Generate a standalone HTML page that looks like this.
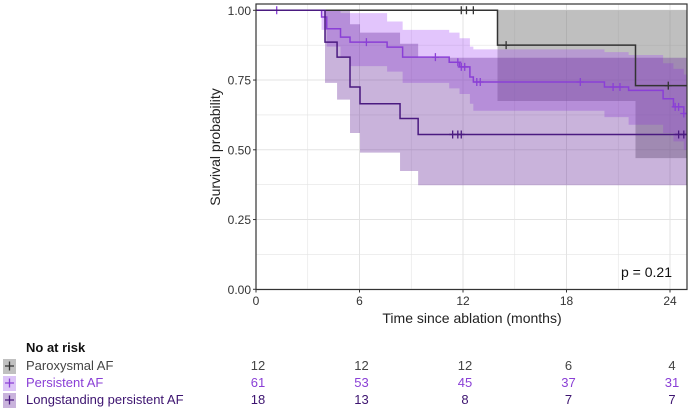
<!DOCTYPE html>
<html><head><meta charset="utf-8"><style>
body{margin:0;background:#fff;}
svg{display:block;font-family:"Liberation Sans",Arial,sans-serif;}
</style></head><body>
<svg id="chart" width="691" height="412" viewBox="0 0 691 412">
<g id="grid"></g>
<g id="bands"></g>
<g id="lines"></g>
<g id="axes"></g>
<text x="621" y="277" font-size="14" fill="#111">p = 0.21</text>
<text x="220" y="147" font-size="14" fill="#222" text-anchor="middle" transform="rotate(-90 220 147)">Survival probability</text>
<text x="472" y="323" font-size="14" fill="#222" text-anchor="middle">Time since ablation (months)</text>
<g id="risk">
<text x="26" y="352" font-size="13" font-weight="bold" fill="#111">No at risk</text>
</g>
</svg>
<script>
const ticksX=[0,6,12,18,24];
const ticksY=[0,0.25,0.5,0.75,1];
const tickLabelsY=["0.00","0.25","0.50","0.75","1.00"];
const groupNames=["Paroxysmal AF","Persistent AF","Longstanding persistent AF"];
const parTimes=[0,14.0,22.0];
const parSurv=[1,0.875,0.73];
const parLower=[1,0.675,0.47];
const parUpper=[1,1,1];
const parCensor=[11.9,12.2,12.6,14.5,23.9];
const perTimes=[0,3.8,4.1,4.9,5.45,7.6,8.5,11.2,11.8,12.4,12.6,20.2,21.6,23.6,24.2,24.8];
const perSurv=[1,0.976,0.934,0.904,0.886,0.868,0.832,0.814,0.797,0.761,0.743,0.725,0.713,0.683,0.654,0.63];
const perLower=[1,0.93,0.87,0.83,0.8,0.78,0.74,0.72,0.7,0.665,0.64,0.617,0.59,0.56,0.53,0.5];
const perUpper=[1,1,1,0.99,0.99,0.96,0.93,0.92,0.9,0.87,0.86,0.85,0.84,0.81,0.79,0.77];
const perCensor=[1.2,6.4,10.4,11.7,11.9,12.1,12.8,13.0,18.8,20.7,21.1,24.3,24.5,24.8];
const lonTimes=[0,4.0,4.7,5.45,6.03,8.35,9.4];
const lonSurv=[1,0.886,0.832,0.725,0.665,0.612,0.555];
const lonLower=[1,0.74,0.68,0.56,0.49,0.424,0.373];
const lonUpper=[1,1,1,0.95,0.92,0.88,0.83];
const lonCensor=[11.4,11.7,11.9,24.5,24.8];
const riskPar=[12,12,12,6,4];
const riskPer=[61,53,45,37,31];
const riskLon=[18,13,8,7,7];

const X0=256,X1=687,Y0=4,Y1=289.5;
const xs=t=>256+t*17.25;
const ys=s=>289.3-s*279;
const NS="http://www.w3.org/2000/svg";
function mk(tag,attrs,parent){const e=document.createElementNS(NS,tag);for(const k in attrs)e.setAttribute(k,attrs[k]);parent.appendChild(e);return e;}
const grid=document.getElementById('grid'),axes=document.getElementById('axes'),bands=document.getElementById('bands'),lines=document.getElementById('lines'),risk=document.getElementById('risk');
mk('rect',{x:X0,y:Y0,width:X1-X0,height:Y1-Y0,fill:'#fff'},grid);
for(let t=0;t<=25;t+=3){const g=mk('line',{x1:xs(t),x2:xs(t),y1:Y0,y2:Y1,stroke:'#e3e3e3','stroke-width':t%6?0.6:1},grid);

}
for(let s=0;s<=1.001;s+=0.125){const g=mk('line',{x1:X0,x2:X1,y1:ys(s),y2:ys(s),stroke:'#e3e3e3','stroke-width':(Math.round(s*8)%2)?0.6:1},grid);

}
const END=25;
function stepPath(T,S){let d=`M${xs(T[0])},${ys(S[0])}`;for(let i=1;i<T.length;i++){d+=`H${xs(T[i])}V${ys(S[i])}`;}d+=`H${xs(END)}`;return d;}
function bandPath(T,L,U){let top=`M${xs(T[0])},${ys(U[0])}`;for(let i=1;i<T.length;i++)top+=`H${xs(T[i])}V${ys(U[i])}`;top+=`H${xs(END)}`;
let n=T.length-1;let bot=`V${ys(L[n])}`;for(let i=n;i>=1;i--){bot+=`H${xs(T[i])}V${ys(L[i-1])}`;}bot+=`H${xs(T[0])}Z`;return top+bot;}
const groups=[
 {n:'paroxysmal',T:parTimes,S:parSurv,L:parLower,U:parUpper,C:parCensor,line:'#333',fill:'#808080',op:0.5},
 {n:'persistent',T:perTimes,S:perSurv,L:perLower,U:perUpper,C:perCensor,line:'#8a3fd6',fill:'#a64ff5',op:0.33},
 {n:'longstanding',T:lonTimes,S:lonSurv,L:lonLower,U:lonUpper,C:lonCensor,line:'#4a1a80',fill:'#6a2c9a',op:0.36}];
function survAt(T,S,t){let v=S[0];for(let i=0;i<T.length;i++)if(T[i]<=t)v=S[i];return v;}
groups.forEach(g=>{
 const b=mk('path',{d:bandPath(g.T,g.L,g.U),fill:g.fill,'fill-opacity':g.op},bands);
 
 
});
groups.forEach(g=>{
 const l=mk('path',{d:stepPath(g.T,g.S),fill:'none',stroke:g.line,'stroke-width':1.5},lines);
 
 
 g.C.forEach(c=>{const x=xs(c),y=ys(survAt(g.T,g.S,c));
  const m=mk('path',{d:`M${x-3.5},${y}H${x+3.5}M${x},${y-4}V${y+4}`,stroke:g.line,'stroke-width':1.3},lines);
  
  });
});
mk('rect',{x:X0,y:Y0,width:X1-X0,height:Y1-Y0,fill:'none',stroke:'#333','stroke-width':1.2},axes);
ticksX.forEach(t=>{mk('line',{x1:xs(t),x2:xs(t),y1:Y1,y2:Y1+3,stroke:'#333'},axes);
 const tx=mk('text',{x:xs(t),y:305,'font-size':12,fill:'#333','text-anchor':'middle'},axes);tx.textContent=t;
 
 });
ticksY.forEach((s,i)=>{mk('line',{x1:X0-3,x2:X0,y1:ys(s),y2:ys(s),stroke:'#333'},axes);
 const tx=mk('text',{x:251,y:ys(s)+4.5,'font-size':12,fill:'#333','text-anchor':'end'},axes);tx.textContent=tickLabelsY[i];
 
 });
const rowY=[370,387,404],txtCol=['#444','#8a3fd6','#3d1470'],boxCol=['#c0c0c0','#dcc4f7','#c9b3dc'],rows=[riskPar,riskPer,riskLon];
rows.forEach((r,i)=>{
 const bx=mk('rect',{x:3,y:rowY[i]-11,width:13,height:15,fill:boxCol[i]},risk);
 
 
 mk('path',{d:`M5,${rowY[i]-4}H14M9.5,${rowY[i]-8.5}V${rowY[i]+0.5}`,stroke:groups[i].line,'stroke-width':1.3},risk);
 const lb=mk('text',{x:26,y:rowY[i],'font-size':13,fill:txtCol[i]},risk);lb.textContent=groupNames[i];
 
 
 r.forEach((v,j)=>{const t=mk('text',{x:xs(ticksX[j])+2,y:rowY[i],'font-size':13,fill:txtCol[i],'text-anchor':'middle'},risk);t.textContent=v;
 
 });
});
</script>
</body></html>
